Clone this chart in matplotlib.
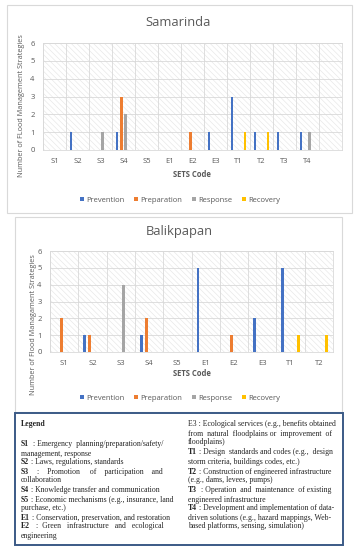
import numpy as np
import matplotlib
matplotlib.use("Agg")
import matplotlib.pyplot as plt
from matplotlib.patches import Rectangle, Patch

plt.rcParams["font.family"] = ["Open Sans", "DejaVu Sans"]
plt.rcParams["hatch.linewidth"] = 0.4

SERIES = ["Prevention", "Preparation", "Response", "Recovery"]
COLORS = ["#4472C4", "#ED7D31", "#A5A5A5", "#FFC000"]

# Samarinda (last category has no label)
sam_codes = ["S1", "S2", "S3", "S4", "S5", "E1", "E2", "E3", "T1", "T2", "T3", "T4", ""]
sam_prevention = [0, 1, 0, 1, 0, 0, 0, 1, 3, 1, 1, 1, 0]
sam_preparation = [0, 0, 0, 3, 0, 0, 1, 0, 0, 0, 0, 0, 0]
sam_response = [0, 0, 1, 2, 0, 0, 0, 0, 0, 0, 0, 1, 0]
sam_recovery = [0, 0, 0, 0, 0, 0, 0, 0, 1, 1, 0, 0, 0]

# Balikpapan
bal_codes = ["S1", "S2", "S3", "S4", "S5", "E1", "E2", "E3", "T1", "T2"]
bal_prevention = [0, 1, 0, 1, 0, 5, 0, 2, 5, 0]
bal_preparation = [2, 1, 0, 2, 0, 0, 1, 0, 0, 0]
bal_response = [0, 0, 4, 0, 0, 0, 0, 0, 0, 0]
bal_recovery = [0, 0, 0, 0, 0, 0, 0, 0, 1, 1]

# legend box text: (prefix, rest, justified)
LEFT_LINES = [
    ("S1", ": Emergency planning/preparation/safety/", True),
    ("", "management, response", False),
    ("S2", ": Laws, regulations, standards", False),
    ("S3", ": Promotion of participation and", True),
    ("", "collaboration", False),
    ("S4", ": Knowledge transfer and communication", False),
    ("S5", ": Economic mechanisms (e.g., insurance, land", True),
    ("", "purchase, etc.)", False),
    ("E1", ": Conservation, preservation, and restoration", False),
    ("E2", ": Green infrastructure and ecological", True),
    ("", "engineering", False),
]
RIGHT_LINES = [
    ("", "E3 : Ecological services (e.g., benefits obtained", True),
    ("", "from natural floodplains or improvement of", True),
    ("", "floodplains)", False),
    ("T1", ": Design standards and codes (e.g., design", True),
    ("", "storm criteria, buildings codes, etc.)", False),
    ("T2", ": Construction of engineered infrastructure", True),
    ("", "(e.g., dams, levees, pumps)", False),
    ("T3", ": Operation and maintenance of existing", True),
    ("", "engineered infrastructure", False),
    ("T4", ": Development and implementation of data-", True),
    ("", "driven solutions (e.g., hazard mappings, Web-", True),
    ("", "based platforms, sensing, simulation)", False),
]

W, H = 358, 550
TXT = "#595959"
GRID = "#d9d9d9"
SERIF_SIZE = 5.6
SERIF = "Liberation Serif"


def fx(px):
    return px / W


def fy(py):
    return 1 - py / H


def panel_box(fig, x0, y0, x1, y1, color, lw):
    fig.patches.append(Rectangle((fx(x0), fy(y1)), fx(x1 - x0), (y1 - y0) / H,
                                 transform=fig.transFigure, facecolor="white",
                                 edgecolor=color, linewidth=lw, zorder=-5))


def bar_chart(fig, rect, codes, data, title, ylabel, title_xy, xlab_xy, ylab_xy, leg_y):
    ax = fig.add_axes([fx(rect[0]), fy(rect[3]), fx(rect[2] - rect[0]), (rect[3] - rect[1]) / H])
    ax.set_facecolor("none")
    n = len(codes)
    x = np.arange(n)
    ax.add_patch(Rectangle((-0.5, 0), n, 6, facecolor="white", hatch="\\\\\\\\\\\\",
                           edgecolor="#e4e4e4", linewidth=0, zorder=0))
    offsets = [-0.27, -0.09, 0.09, 0.27]
    for vals, off, c in zip(data, offsets, COLORS):
        v = np.array(vals, dtype=float)
        ax.bar(x + off, v, width=0.1, color=c, zorder=3)
    ax.set_xlim(-0.5, n - 0.5)
    ax.set_ylim(0, 6)
    ax.set_yticks(range(7))
    ax.set_xticks(x)
    ax.set_xticklabels(codes)
    ax.set_xticks(np.arange(n + 1) - 0.5, minor=True)
    ax.grid(True, which="minor", axis="x", color=GRID, linewidth=0.6, zorder=1)
    ax.grid(True, which="major", axis="y", color=GRID, linewidth=0.6, zorder=1)
    ax.set_axisbelow(True)
    ax.tick_params(which="both", length=0, labelsize=5.5, labelcolor=TXT, pad=6)
    for s in ax.spines.values():
        s.set_color(GRID)
        s.set_linewidth(0.6)
    fig.text(fx(title_xy[0]), fy(title_xy[1]), title, ha="center", va="center",
             fontsize=9.3, color=TXT)
    fig.text(fx(xlab_xy[0]), fy(xlab_xy[1]), "SETS Code", ha="center", va="center",
             fontsize=5.5, color=TXT, fontweight="bold")
    fig.text(fx(ylab_xy[0]), fy(ylab_xy[1]), ylabel, ha="center", va="center",
             rotation=90, fontsize=5.2, color=TXT)
    handles = [Patch(facecolor=c, edgecolor="none") for c in COLORS]
    fig.legend(handles, SERIES, loc="center", bbox_to_anchor=(fx(180), fy(leg_y)),
               ncol=4, frameon=False, fontsize=5.5, labelcolor=TXT,
               handlelength=0.5, handleheight=0.5, handletextpad=0.3,
               columnspacing=1.3, borderpad=0)
    return ax


def measure(fig, renderer, s, weight, size):
    t = fig.text(0, 0, s, fontsize=size, family=SERIF, fontweight=weight)
    w = t.get_window_extent(renderer).width * W / fig.bbox.width
    t.remove()
    return w


def text_block(fig, renderer, lines, x0, x1, ys, size):
    space = measure(fig, renderer, "a a", "normal", size) - measure(fig, renderer, "aa", "normal", size)
    space = max(space, 0.8)
    for (prefix, rest, justify), y in zip(lines, ys):
        words = rest.split()
        pw = measure(fig, renderer, prefix, "bold", size) if prefix else 0.0
        widths = [measure(fig, renderer, w, "normal", size) for w in words]
        ngaps = len(words) - 1 + (1 if prefix else 0)
        gap = space
        if justify and ngaps > 0:
            gap = max((x1 - x0 - pw - sum(widths)) / ngaps, space)
        # one text per line keeps the baseline steady; gaps made of spaces
        counts = []
        acc = 0.0
        for _ in range(ngaps):
            acc += gap / space
            k = max(1, int(round(acc)))
            counts.append(k)
            acc -= k
        start = x0
        gi = 0
        if prefix:
            fig.text(fx(x0), fy(y + 2.5), prefix, ha="left", va="baseline", fontsize=size,
                     family=SERIF, fontweight="bold", color="#262626")
            start = x0 + pw + counts[0] * space
            gi = 1
        line = words[0]
        for w, k in zip(words[1:], counts[gi:]):
            line += " " * k + w
        fig.text(fx(start), fy(y + 2.5), line, ha="left", va="baseline", fontsize=size,
                 family=SERIF, color="#262626")


fig = plt.figure(figsize=(3.58, 5.5), dpi=100)
fig.patch.set_facecolor("white")

panel_box(fig, 7, 5, 352, 213, "#d9d9d9", 0.8)
panel_box(fig, 15, 217, 342, 412, "#d9d9d9", 0.8)
panel_box(fig, 15, 413, 343, 545, "#3b5a86", 1.4)

bar_chart(fig, (43, 43, 342, 150), sam_codes,
          [sam_prevention, sam_preparation, sam_response, sam_recovery],
          "Samarinda", "Number of FLood Management Strategies",
          (178, 23), (192, 175), (22, 106), 200)
bar_chart(fig, (50, 251, 333, 352), bal_codes,
          [bal_prevention, bal_preparation, bal_response, bal_recovery],
          "Balikpapan", "Number of Flood Managament Strategies",
          (179, 232), (192, 374), (34, 325), 398)

renderer = fig.canvas.get_renderer()
fig.text(fx(21), fy(426.5), "Legend", ha="left", va="baseline", fontsize=SERIF_SIZE,
         family=SERIF, fontweight="bold", color="#262626")
text_block(fig, renderer, LEFT_LINES, 21, 163,
           [444, 453, 462, 471, 480, 490, 499, 508, 517, 526, 535], SERIF_SIZE)
text_block(fig, renderer, RIGHT_LINES, 188, 332,
           [424, 434, 442, 452, 462, 471, 480, 490, 499, 508, 518, 526], SERIF_SIZE)

fig.savefig("out.png", dpi=100)
